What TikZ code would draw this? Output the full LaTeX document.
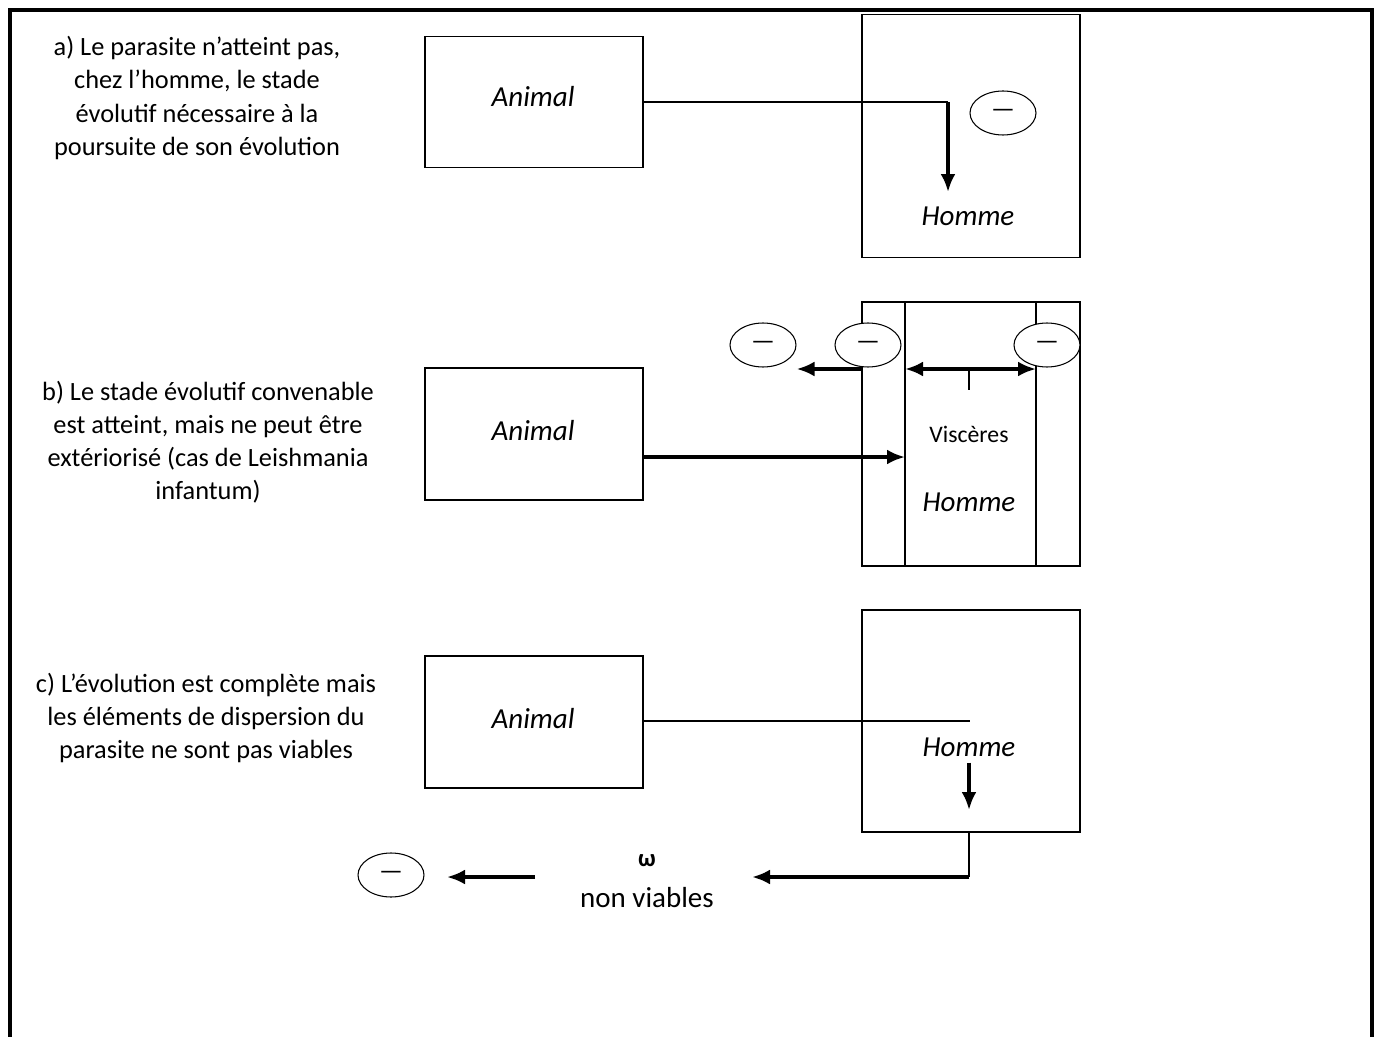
\documentclass[tikz,border=0pt]{standalone}
\usepackage{fontspec}
\setmainfont{Carlito}
\usetikzlibrary{arrows, arrows.meta, positioning, shapes.geometric}
\newlength{\captionwidth}
\setlength{\captionwidth}{7.6cm}
\newcommand{\captionfont}{\fontsize{15}{18.8}\selectfont}
\newcommand{\casatext}{\centering\captionfont a) Le parasite n’atteint pas, \\ chez l’homme, le stade \\ évolutif nécessaire à la \\ poursuite de son évolution}
\newcommand{\casbtext}{\centering\captionfont b) Le stade évolutif convenable \\ est atteint, mais ne peut être \\ extériorisé (cas de Leishmania \\ infantum)}
\newcommand{\casctext}{\centering\captionfont c) L’évolution est complète mais \\ les éléments de dispersion du \\ parasite ne sont pas viables}

\begin{document}
\begin{tikzpicture}[x=0.02cm, y=-0.02cm,
  hostbox/.style={draw, line width=0.8pt, minimum width=4.36cm, inner sep=0pt},
  hostname/.style={font=\fontsize{16.5}{20}\selectfont\itshape},
  minusbubble/.style={ellipse, draw, fill=white, line width=0.6pt, minimum width=1.32cm, minimum height=0.88cm, inner sep=0pt, font=\fontsize{15}{18}\selectfont},
  flow/.style={line width=2pt, -{Latex[length=3.6mm, width=3mm]}},
  link/.style={line width=0.7pt}]
  \useasboundingbox (0,0) rectangle (1383,1037);
  %frame round the page
  \draw[line width=2.3pt] (10,1037) -- (10,10) -- (1372,10) -- (1372,1037);

  %case a
  \draw (197,98) node (capA) {\parbox{\captionwidth}{\casatext}};
  \draw (534,102) node[hostbox, minimum height=2.62cm] (animA) {};
  \draw (533,97) node[hostname] (animAtxt) {Animal};
  \draw (971,136) node[hostbox, minimum height=4.86cm] (boxA) {};
  \draw (968,216) node[hostname] (hommeA) {Homme};
  \draw (1003,113) node[minusbubble] (minusA) {—};
  \coordinate (tipA) at (948,192);
  \draw[link] (animA.east) -- (animA.east -| tipA);
  \draw[flow] (animA.east -| tipA) -- (tipA);

  %case b
  \draw (208,442) node (capB) {\parbox{\captionwidth}{\casbtext}};
  \draw (534,434) node[hostbox, minimum height=2.64cm] (animB) {};
  \draw (533,431) node[hostname] (animBtxt) {Animal};
  \draw (971,434) node[hostbox, minimum height=5.28cm] (boxB) {};
  \draw[link] (905,302) -- (905,566);
  \draw[link] (1036,302) -- (1036,566);
  \draw (969,434) node[font=\fontsize{13.5}{16}\selectfont] (viscB) {Viscères};
  \draw (969,502) node[hostname] (hommeB) {Homme};
  \draw (763,345) node[minusbubble] (minusB1) {—};
  \draw (868,345) node[minusbubble] (minusB2) {—};
  \draw (1047,345) node[minusbubble] (minusB3) {—};
  \coordinate (visL) at (905,369);
  \coordinate (visR) at (1036,369);
  \coordinate (outL) at (862,369);
  \coordinate (inB) at (905,457);
  \draw[flow] (inB -| animB.east) -- (inB);
  \draw[flow, {Latex[length=3.6mm, width=3mm]}-{Latex[length=3.6mm, width=3mm]}] (visL) -- (visR);
  \draw[link] (969,369) -- (969,390);
  \draw[flow] (outL) -- (minusB1.east |- outL);

  %case c
  \draw (206,718) node (capC) {\parbox{\captionwidth}{\casctext}};
  \draw (534,722) node[hostbox, minimum height=2.64cm] (animC) {};
  \draw (533,719) node[hostname] (animCtxt) {Animal};
  \draw (971,721) node[hostbox, minimum height=4.44cm] (boxC) {};
  \draw (969,747) node[hostname] (hommeC) {Homme};
  \draw (647,861) node[font=\fontsize{14}{16}\selectfont\bfseries] (omega) {ω};
  \draw (647,898) node[font=\fontsize{16.5}{20}\selectfont] (nonviab) {non viables};
  \draw (391,875) node[minusbubble] (minusC) {—};
  \coordinate (endC) at (970,721);
  \coordinate (cornC) at (969,877);
  \coordinate (tipC) at (752,877);
  \coordinate (startD) at (535,877);
  \coordinate (tipD) at (447,877);
  \draw[link] (animC.east |- endC) -- (endC);
  \draw[flow] (hommeC.south) -- (969,810);
  \draw[link] (boxC.south -| cornC) -- (cornC);
  \draw[flow] (cornC) -- (tipC);
  \draw[flow] (startD) -- (tipD);
\end{tikzpicture}
\end{document}
